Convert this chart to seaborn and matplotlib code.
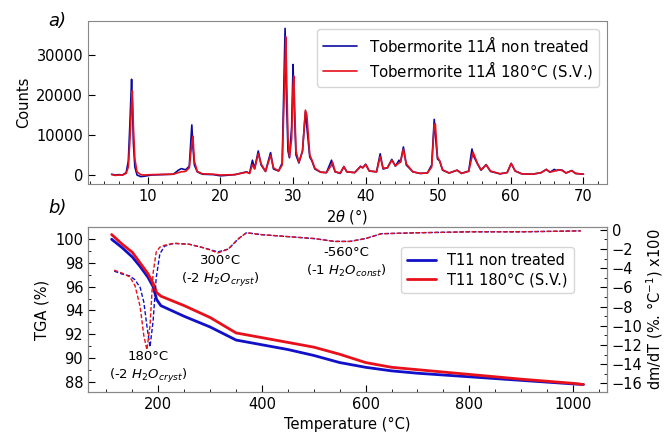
import numpy as np
import pandas as pd
import matplotlib.pyplot as plt
import seaborn as sns
from matplotlib.ticker import MultipleLocator

# --- XRD data (2theta, counts) ---
two_theta = [5.0, 5.5, 6.0, 6.5, 7.0, 7.3, 7.5, 7.75, 7.85, 8.0, 8.2, 8.5, 9.0, 9.5,
             10.5, 12.0, 13.5, 14.2, 14.6, 15.2, 15.7, 16.05, 16.2, 16.4, 16.8, 17.5,
             19.0, 20.0, 22.0, 23.6, 24.0, 24.4, 24.7, 25.2, 25.6, 26.2, 26.9, 27.3,
             28.0, 28.5, 28.9, 29.0, 29.3, 29.5, 29.8, 30.0, 30.1, 30.4, 30.8, 31.3,
             31.7, 31.9, 32.3, 32.6, 33.0, 33.8, 34.6, 35.3, 35.45, 35.8, 36.5, 37.0,
             37.4, 38.5, 39.3, 39.6, 40.0, 40.5, 41.5, 42.0, 42.4, 43.0, 43.6, 44.1,
             44.6, 44.8, 45.2, 45.6, 46.5, 47.5, 48.5, 49.1, 49.45, 49.6, 49.9, 50.2,
             50.6, 51.5, 52.6, 53.2, 54.2, 54.65, 54.8, 55.4, 55.9, 56.6, 57.2, 58.5,
             59.5, 60.05, 60.6, 61.5, 63.0, 64.2, 64.9, 65.4, 66.0, 66.3, 66.6, 67.1,
             67.6, 68.4, 68.9, 70.0]
counts_nt = [200, 0, 100, 0, 600, 3500, 12000, 23900, 18000, 8000, 2000, 0, -400, -300,
             0, 100, 200, 1200, 1600, 1300, 2200, 12500, 7000, 2500, 800, 200,
             100, -200, 100, 800, 400, 3700, 1600, 6000, 2500, 900, 5600, 1500,
             1000, 3000, 36600, 25000, 6000, 4300, 12000, 27600, 20000, 5000, 3000, 6000,
             15800, 12000, 4500, 3500, 1500, 700, 600, 3700, 2500, 800, 400, 2100,
             800, 600, 2200, 1800, 2700, 1000, 800, 5300, 1500, 1800, 3900, 2200,
             3700, 3200, 7000, 2500, 800, 400, 500, 2500, 13900, 10000, 4000, 3500,
             1200, 500, 1200, 400, 1000, 6500, 5000, 2800, 1200, 2600, 900, 300,
             600, 2900, 1000, 300, 200, 600, 1400, 700, 1400, 1100, 1300, 1200,
             500, 1100, 400, 200]
counts_180 = [100, -100, 0, 0, 400, 2000, 8000, 18000, 21000, 12000, 4000, 800, 100, 0,
              100, 150, 200, 600, 800, 900, 1800, 8000, 9700, 3500, 900, 300,
              200, 0, 100, 700, 400, 2600, 1500, 5300, 2800, 900, 4900, 1800,
              1000, 2500, 28000, 34500, 9000, 4500, 9000, 22000, 24700, 6000, 3200, 6000,
              16200, 15000, 5000, 3700, 1700, 700, 600, 2500, 3200, 800, 500, 2100,
              800, 600, 2100, 1800, 2600, 1000, 800, 4600, 1700, 1800, 3700, 2300,
              3000, 3200, 6400, 2800, 800, 400, 500, 2000, 12500, 12800, 4500, 3500,
              1300, 500, 1200, 400, 900, 4500, 5700, 2900, 1300, 2500, 1000, 300,
              600, 2900, 1000, 300, 200, 600, 1400, 700, 1000, 1100, 1300, 1100,
              500, 1100, 400, 200]

# --- TGA data (temperature, mass %) ---
temp_tga = [110, 130, 150, 165, 180, 190, 197, 205, 250, 300, 350, 400, 450, 500,
            550, 600, 650, 700, 800, 900, 1000, 1020]
tga_nt = [100.0, 99.3, 98.5, 97.7, 96.8, 96.0, 94.9, 94.4, 93.5, 92.6, 91.5, 91.1,
          90.7, 90.2, 89.6, 89.2, 88.9, 88.7, 88.4, 88.1, 87.8, 87.75]
tga_180 = [100.4, 99.6, 98.9, 98.0, 97.1, 96.3, 95.5, 95.2, 94.4, 93.4, 92.1, 91.7,
           91.3, 90.9, 90.3, 89.6, 89.2, 89.0, 88.6, 88.2, 87.85, 87.75]

# --- DTG data (temperature, dm/dT x100) ---
temp_dtg = [115, 130, 145, 155, 165, 172, 178, 184, 190, 196, 203, 212, 230, 260,
            290, 315, 335, 355, 370, 400, 450, 500, 540, 570, 600, 630, 700, 800,
            900, 1015]
dtg_nt = [-4.3, -4.6, -4.8, -5.2, -6.0, -7.5, -10.0, -12.2, -9.5, -5.0, -2.5, -1.7,
          -1.4, -1.5, -1.9, -2.3, -2.0, -0.9, -0.3, -0.5, -0.7, -0.9, -1.2, -1.2,
          -0.9, -0.4, -0.3, -0.2, -0.2, -0.1]
dtg_180 = [-4.2, -4.5, -4.9, -5.8, -8.0, -11.0, -12.5, -10.0, -4.5, -2.3, -1.8, -1.6,
           -1.4, -1.5, -1.9, -2.4, -2.0, -0.9, -0.3, -0.5, -0.7, -0.9, -1.2, -1.2,
           -0.9, -0.4, -0.3, -0.2, -0.2, -0.1]

sns.set_style("ticks")
plt.rcParams['font.family'] = ['DejaVu Sans']
plt.rcParams['xtick.direction'] = 'in'
plt.rcParams['ytick.direction'] = 'in'
plt.rcParams['xtick.major.size'] = 5
plt.rcParams['ytick.major.size'] = 5
plt.rcParams['xtick.minor.size'] = 2.5
plt.rcParams['ytick.minor.size'] = 2.5
for k in ['xtick.color', 'ytick.color', 'text.color', 'axes.labelcolor']:
    plt.rcParams[k] = 'black'
plt.rcParams['font.size'] = 10.5

BLUE = '#1010c8'
RED = '#e8101a'

fig = plt.figure(figsize=(6.67, 4.33), dpi=100)
ax_a = fig.add_axes([0.132, 0.575, 0.778, 0.3765])
ax_b = fig.add_axes([0.132, 0.0947, 0.778, 0.381])

# panel a) XRD
xrd = pd.DataFrame({'tt': two_theta + two_theta,
                    'counts': counts_nt + counts_180,
                    'sample': ['Tobermorite 11$\\AA$ non treated'] * len(two_theta)
                              + ['Tobermorite 11$\\AA$ 180°C (S.V.)'] * len(two_theta)})
sns.lineplot(data=xrd, x='tt', y='counts', hue='sample', estimator=None, sort=False,
             palette=['#0a0aa0', RED], linewidth=1.2, ax=ax_a)
ax_a.set_xlabel('2$\\theta$ (°)', labelpad=2)
ax_a.set_ylabel('Counts')
ax_a.xaxis.set_major_locator(MultipleLocator(10))
ax_a.xaxis.set_minor_locator(MultipleLocator(2))
ax_a.set_yticks([0, 10000, 20000, 30000])
ax_a.legend(loc='upper right', fontsize=10.8, labelspacing=0.3, handlelength=2.3)

# panel b) TGA + DTG
tga = pd.DataFrame({'T': temp_tga + temp_tga,
                    'mass': tga_nt + tga_180,
                    'sample': ['T11 non treated'] * len(temp_tga)
                              + ['T11 180°C (S.V.)'] * len(temp_tga)})
sns.lineplot(data=tga, x='T', y='mass', hue='sample', estimator=None, sort=False,
             palette=[BLUE, RED], linewidth=2.0, ax=ax_b)
ax_b.set_xlabel('Temperature (°C)')
ax_b.set_ylabel('TGA (%)')
ax_b.xaxis.set_major_locator(MultipleLocator(200))
ax_b.xaxis.set_minor_locator(MultipleLocator(50))
ax_b.yaxis.set_major_locator(MultipleLocator(2))
ax_b.yaxis.set_minor_locator(MultipleLocator(1))
ax_b.legend(loc='upper right', bbox_to_anchor=(0.936, 0.879), borderaxespad=0,
            fontsize=10.5, labelspacing=0.3)

ax_c = ax_b.twinx()
dtg = pd.DataFrame({'T': temp_dtg + temp_dtg,
                    'dtg': dtg_nt + dtg_180,
                    'sample': ['nt'] * len(temp_dtg) + ['180'] * len(temp_dtg)})
sns.lineplot(data=dtg, x='T', y='dtg', hue='sample', estimator=None, sort=False,
             palette=[BLUE, RED], linewidth=1.0, dashes=False, legend=False, ax=ax_c)
for ln in ax_c.get_lines():
    ln.set_dashes((3, 1.5))
ax_c.set_ylim(-16.9, 0.3)
ax_c.yaxis.set_major_locator(MultipleLocator(2))
ax_c.yaxis.set_minor_locator(MultipleLocator(1))
ax_c.tick_params(axis='y', which='both', direction='in')
ax_c.set_ylabel('dm/dT (%. °C$^{-1}$) x100', labelpad=1)
ax_c.set_xlabel('')

ax_b.text(320, 97.3, '300°C\n(-2 $H_2O_{cryst}$)', ha='center', va='center', fontsize=9.5,
          linespacing=1.3)
ax_b.text(180, 89.2, '180°C\n(-2 $H_2O_{cryst}$)', ha='center', va='center', fontsize=9.5,
          linespacing=1.3)
ax_b.text(562, 98.05, '-560°C\n(-1 $H_2O_{const}$)', ha='center', va='center', fontsize=9.5,
          linespacing=1.3)

for ax in (ax_a, ax_b, ax_c):
    for sp in ax.spines.values():
        sp.set_visible(True)
        sp.set_edgecolor('#888888')

fig.text(0.072, 0.951, 'a)', fontsize=13, style='italic', va='center')
fig.text(0.072, 0.52, 'b)', fontsize=13, style='italic', va='center')

fig.savefig('out.png', dpi=100)
